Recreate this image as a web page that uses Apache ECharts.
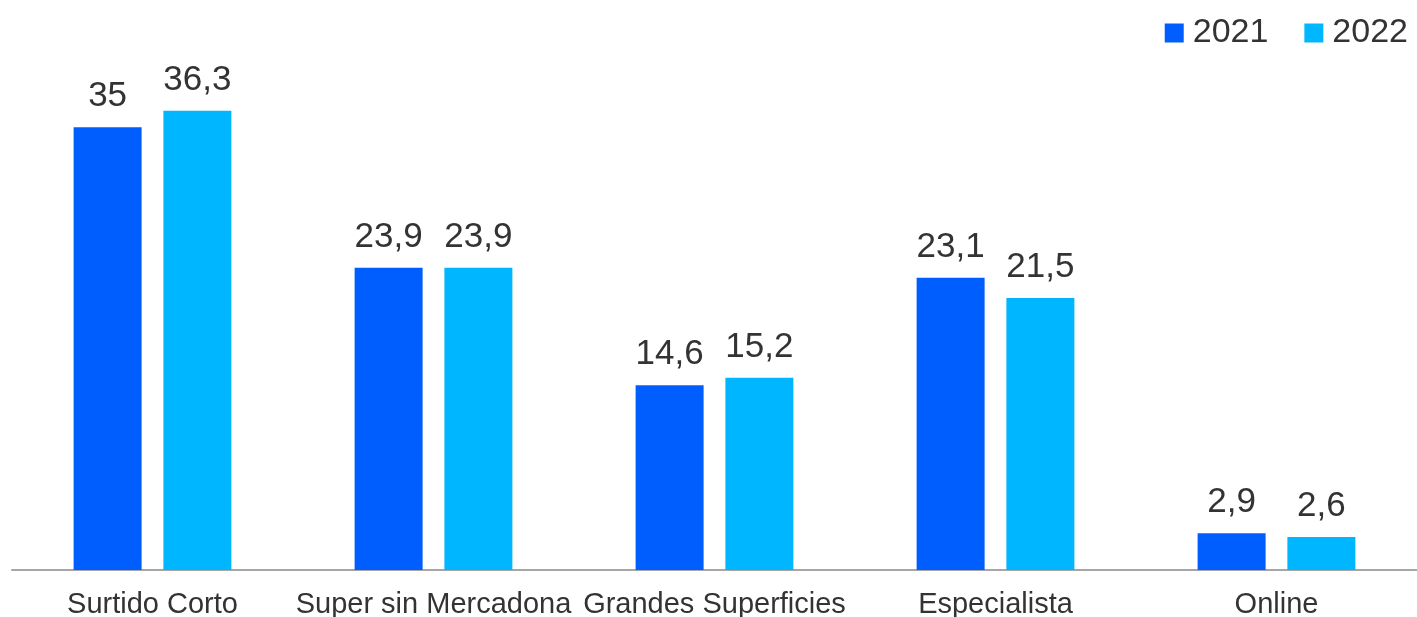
<!DOCTYPE html>
<html>
<head>
<meta charset="utf-8">
<script src="https://cdn.jsdelivr.net/npm/echarts@6/dist/echarts.min.js"></script>
<style>
  html, body { margin: 0; padding: 0; background: #fff; }
  #chart { width: 1417px; height: 617px; }
</style>
</head>
<body>
<div id="chart"></div>
<script>
// Cuota por canal, 2021 vs 2022
const categories = ['Surtido Corto', 'Super sin Mercadona', 'Grandes Superficies', 'Especialista', 'Online'];
const values2021 = [35, 23.9, 14.6, 23.1, 2.9];
const values2022 = [36.3, 23.9, 15.2, 21.5, 2.6];
const seriesNames = ['2021', '2022'];

const fmt = p => String(p.value).replace('.', ',');
const font = "'Liberation Sans', Arial, sans-serif";
const labelStyle = {
  show: true, position: 'top', distance: 13, formatter: fmt,
  fontFamily: font, fontSize: 35, color: '#333333'
};

const chart = echarts.init(document.getElementById('chart'));
chart.setOption({
  animation: false,
  color: ['#005EFF', '#00B6FF'],
  legend: {
    data: seriesNames,
    right: 4,
    top: 11,
    itemWidth: 19,
    itemHeight: 19,
    itemGap: 36,
    icon: 'rect',
    textStyle: { fontFamily: font, fontSize: 34, color: '#333333', padding: [0, 0, 0, 4] }
  },
  grid: { left: 12, right: 0, top: 64, bottom: 47, containLabel: false, outerBoundsMode: 'none' },
  xAxis: {
    type: 'category',
    data: categories,
    axisTick: { show: false },
    axisLine: { lineStyle: { color: '#A6A6A6', width: 2 } },
    axisLabel: {
      interval: 0,
      margin: 20,
      fontFamily: font,
      fontSize: 29,
      color: '#333333'
    }
  },
  yAxis: { type: 'value', min: 0, max: 40, show: false },
  series: [
    { name: seriesNames[0], type: 'bar', data: values2021, barWidth: 68, barGap: '32%', label: labelStyle },
    { name: seriesNames[1], type: 'bar', data: values2022, barWidth: 68, label: labelStyle }
  ]
});
</script>
</body>
</html>
